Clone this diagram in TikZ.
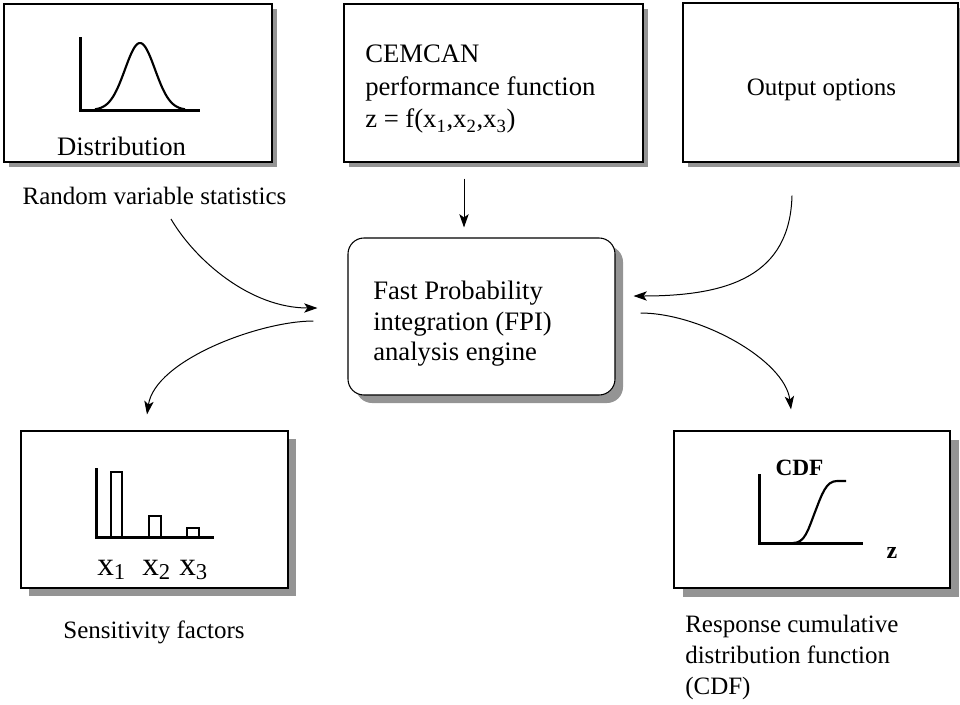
\documentclass[tikz,border=0pt]{standalone}
\usepackage{fontspec}
\setmainfont{Liberation Serif}
\usetikzlibrary{calc,arrows.meta,shadows}
\tikzset{>={Stealth[length=10pt,width=7pt,inset=2.5pt]}}
\tikzset{
  panel/.style={draw,fill=white,line width=0.8pt,inner sep=0pt,
    drop shadow={shadow xshift=#1,shadow yshift=-#1,opacity=1,fill=black!42}},
  panel/.default=3.5pt,
  flow/.style={->,line width=0.75pt},
  axis/.style={line width=2.25pt},
  curve/.style={line width=1.6pt},
  bar/.style={line width=1.5pt},
  boxtext/.style={inner sep=0pt,font=\fontsize{20}{24.4}\selectfont},
  caption/.style={inner sep=0pt,font=\fontsize{18.75}{23.25}\selectfont}
}
\newcommand{\xvar}[1]{x\raisebox{-3.5pt}{\fontsize{17}{17}\selectfont#1}}

\begin{document}
\begin{tikzpicture}[x=0.75pt,y=-0.75pt]
\useasboundingbox (0,0) rectangle (960,704);
% panels
\node[panel,minimum width=201pt,minimum height=118.5pt] (dist) at (138,83) {};
\node[panel,minimum width=224.25pt,minimum height=118.5pt] (cemcan) at (493.5,83) {};
\node[panel,minimum width=206.25pt,minimum height=119.25pt] (opts) at (820.5,82.5) {};
\node[panel=6pt,rounded corners=12pt,minimum width=200.25pt,minimum height=117.75pt] (fpi) at (481.5,316.5) {};
\node[panel=6pt,minimum width=200.25pt,minimum height=117.75pt] (sens) at (154.5,509.5) {};
\node[panel=6.5pt,minimum width=207pt,minimum height=117.75pt] (cdf) at (812,509.5) {};

% distribution
\draw[axis] (80,37) -- (80,110) -- (200,110);
\draw[curve,domain=95:185,samples=60] plot (\x,{110-67*exp(-((\x-140)/15)^2/2)});
\node[boxtext,anchor=base] (distlbl) at (121.5,155) {Distribution};
\node[caption,anchor=base] (rvs) at (154.5,204) {Random variable statistics};

% performance function and options
\node[boxtext,anchor=north west,align=left] (cemcanlbl) at (365,45)
  {CEMCAN\\performance function\\z = f(x\textsubscript{1},x\textsubscript{2},x\textsubscript{3})};
\node[caption,anchor=base] (optslbl) at (821.5,95) {Output options};

% engine
\node[inner sep=0pt,anchor=north west,align=left,font=\fontsize{20}{22.9}\selectfont] (fpilbl) at (373,281)
  {Fast Probability\\integration (FPI)\\analysis engine};

% sensitivity factors
\draw[axis] (96,468) -- (96,537) -- (214,537);
\foreach \a/\b/\h in {111/122/472,149/161/516,187/199/528}
  \draw[bar] (\a,537) rectangle (\b,\h);
\foreach \i/\xx in {1/97,2/142,3/179}
  \node[anchor=base west,inner sep=0pt,font=\fontsize{25}{25}\selectfont] (x\i) at (\xx,575) {\xvar{\i}};
\node[caption,anchor=base] (senslbl) at (154,638) {Sensitivity factors};

% cdf
\draw[axis] (759,474) -- (759,543) -- (863,543);
\draw[curve] (793,543) .. controls (805,543) and (808,530) .. (815,512)
  .. controls (822,494) and (826,481) .. (837,481) -- (846,481);
\node[anchor=base,inner sep=0pt,font=\fontsize{17.5}{17.5}\selectfont\bfseries] (cdfy) at (799.5,475) {CDF};
\node[anchor=base,inner sep=0pt,font=\fontsize{18}{18}\selectfont\bfseries] (cdfz) at (892,558) {z};
\node[caption,anchor=north west,align=left] (cdflbl) at (685,615)
  {Response cumulative\\distribution function\\(CDF)};

% connectors
\draw[flow] ($(cemcan.south)+(-29.5,16)$) -- ($(fpi.north)+(-17.5,-10)$);
\draw[flow] ($(rvs.base)+(16.5,15)$) .. controls (195,260) and (250,308) .. ($(fpi.west)+(-30,-8.5)$);
\draw[flow] ($(opts.south)+(-28.5,33)$) .. controls (790,275) and (730,296) .. ($(fpi.east)+(18,-20.5)$);
\draw[flow] ($(fpi.west)+(-34,4.5)$) .. controls (260,321) and (155,360) .. ($(sens.north)+(-7.5,-16)$);
\draw[flow] ($(fpi.east)+(25,-3.5)$) .. controls (700,313) and (785,360) .. ($(cdf.north)+(-21,-21)$);
\end{tikzpicture}
\end{document}
